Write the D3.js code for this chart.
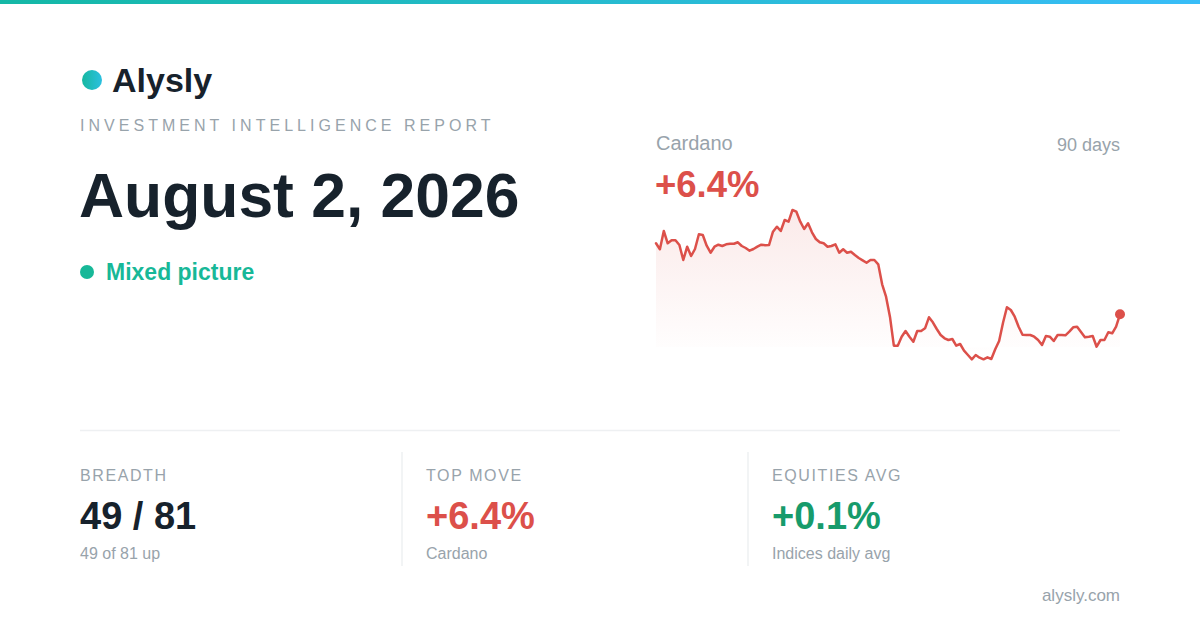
<!DOCTYPE html>
<html>
<head>
<meta charset="utf-8">
<script src="https://cdn.jsdelivr.net/npm/d3@7/dist/d3.min.js"></script>
<style>
  html, body { margin: 0; padding: 0; background: #ffffff; }
  svg { display: block; font-family: "Liberation Sans", Arial, Helvetica, sans-serif; }
</style>
</head>
<body>
<svg id="card" width="1200" height="630"></svg>
<script>
// ---- Data ----
const brand = "Alysly";
const reportLabel = "INVESTMENT INTELLIGENCE REPORT";
const reportDate = "August 2, 2026";
const sentiment = "Mixed picture";
const assetName = "Cardano";
const periodLabel = "90 days";
const assetChange = "+6.4%";
// 90-day closing series (price index read from the sparkline)
const closes = [
  156.7, 150.7, 169, 156.7, 159.7, 159.7, 155, 140, 153.3, 144, 151, 165.7, 165, 154.3, 147.3,
  153.3, 155.3, 154, 155.7, 156.3, 156.3, 157.7, 154, 152, 149.3, 151, 153.3, 155.3, 154.7, 155,
  168.3, 173.3, 169, 180, 178.3, 190, 188.3, 178.3, 171, 176.7, 167.7, 161, 157.7, 156.7, 153.3,
  154, 155.7, 147.3, 150.7, 147.3, 148.3, 145, 142, 139.7, 137.3, 140, 140, 135.7, 115.7, 103.3, 83.3,
  54.3, 54.3, 63.3, 69, 63.3, 58.3, 69, 69, 71.7, 82.7, 77.7, 71, 65, 61.7, 60, 61, 54.3, 56, 49.3,
  45, 40.7, 45, 42.3, 40.7, 42.7, 41, 50.7, 59, 77.3, 92.7, 90, 83.3, 73.3, 65.3, 65, 65, 63.3, 60,
  55, 64, 63.3, 59, 65, 65, 64.7, 68.3, 72.7, 73.3, 68, 62.7, 63.3, 64, 53.3, 60, 60, 67.7, 66.7,
  73.3, 85.7
];
const statLabels = ["BREADTH", "TOP MOVE", "EQUITIES AVG"];
const statValues = ["49 / 81", "+6.4%", "+0.1%"];
const statNotes = ["49 of 81 up", "Cardano", "Indices daily avg"];
const statTones = ["neutral", "down", "up"];
const footer = "alysly.com";

// ---- Drawing ----
const svg = d3.select("#card");
const defs = svg.append("defs");
const C = { ink: "#17222c", muted: "#98a3ab", red: "#dc504a", green: "#179b6b", teal: "#17b898" };

const topGrad = defs.append("linearGradient").attr("id", "topGrad");
topGrad.append("stop").attr("offset", "0%").attr("stop-color", "#14b8a6");
topGrad.append("stop").attr("offset", "100%").attr("stop-color", "#38bdf8");
svg.append("rect").attr("x", 0).attr("y", 0).attr("width", 1200).attr("height", 4).attr("fill", "url(#topGrad)");

const logoGrad = defs.append("linearGradient").attr("id", "logoGrad");
logoGrad.append("stop").attr("offset", "0%").attr("stop-color", "#16b8a0");
logoGrad.append("stop").attr("offset", "100%").attr("stop-color", "#2cc0e0");
svg.append("circle").attr("cx", 92).attr("cy", 80).attr("r", 10).attr("fill", "url(#logoGrad)");
svg.append("text").attr("x", 112).attr("y", 92).attr("font-size", 34).attr("font-weight", 700)
  .attr("fill", C.ink).text(brand);

svg.append("text").attr("x", 80).attr("y", 131).attr("font-size", 16).attr("fill", C.muted)
  .attr("letter-spacing", 4.03).text(reportLabel);

svg.append("text").attr("x", 79).attr("y", 217).attr("font-size", 62.4).attr("font-weight", 700)
  .attr("fill", C.ink).text(reportDate);

svg.append("circle").attr("cx", 87).attr("cy", 272).attr("r", 7).attr("fill", C.teal);
svg.append("text").attr("x", 106).attr("y", 280).attr("font-size", 23).attr("font-weight", 700)
  .attr("fill", C.teal).text(sentiment);

// Sparkline header
svg.append("text").attr("x", 656).attr("y", 150).attr("font-size", 20).attr("fill", C.muted).text(assetName);
svg.append("text").attr("x", 1120).attr("y", 151).attr("font-size", 18).attr("fill", C.muted)
  .attr("text-anchor", "end").text(periodLabel);
svg.append("text").attr("x", 655).attr("y", 197).attr("font-size", 36.5).attr("font-weight", 700)
  .attr("fill", C.red).text(assetChange);

// Sparkline
const x = d3.scaleLinear().domain([0, closes.length - 1]).range([656, 1120]);
const y = d3.scaleLinear().domain([d3.min(closes), d3.max(closes)]).range([359.3, 210]);
const areaGrad = defs.append("linearGradient").attr("id", "areaGrad")
  .attr("x1", 0).attr("y1", 0).attr("x2", 0).attr("y2", 1);
areaGrad.append("stop").attr("offset", "0%").attr("stop-color", C.red).attr("stop-opacity", 0.12);
areaGrad.append("stop").attr("offset", "100%").attr("stop-color", C.red).attr("stop-opacity", 0);
const area = d3.area().x((d, i) => x(i)).y0(y(d3.min(closes)) - 12).y1(d => y(d)).curve(d3.curveLinear);
svg.append("path").datum(closes).attr("d", area).attr("fill", "url(#areaGrad)");
const line = d3.line().x((d, i) => x(i)).y(d => y(d)).curve(d3.curveLinear);
svg.append("path").datum(closes).attr("d", line).attr("fill", "none").attr("stroke", C.red)
  .attr("stroke-width", 2.5).attr("stroke-linejoin", "round").attr("stroke-linecap", "round");
svg.append("circle").attr("cx", x(closes.length - 1)).attr("cy", y(closes[closes.length - 1]))
  .attr("r", 5).attr("fill", C.red);

// Divider
svg.append("line").attr("x1", 80).attr("x2", 1120).attr("y1", 430.5).attr("y2", 430.5)
  .attr("stroke", "#eef0f2").attr("stroke-width", 1.5);

// Stats
const colX = d3.scalePoint().domain(d3.range(statLabels.length)).range([80, 772]);
const toneColor = { neutral: C.ink, down: C.red, up: C.green };
const cols = svg.selectAll("g.stat").data(statLabels).join("g").attr("class", "stat")
  .attr("transform", (d, i) => `translate(${colX(i)},0)`);
cols.filter((d, i) => i > 0).append("line").attr("x1", -24).attr("x2", -24).attr("y1", 452).attr("y2", 566)
  .attr("stroke", "#eef0f2").attr("stroke-width", 1.5);
cols.append("text").attr("y", 481).attr("font-size", 16).attr("letter-spacing", 1.6)
  .attr("fill", C.muted).text(d => d);
cols.append("text").attr("y", 529).attr("font-size", 38).attr("font-weight", 700)
  .attr("fill", (d, i) => toneColor[statTones[i]]).text((d, i) => statValues[i]);
cols.append("text").attr("y", 559).attr("font-size", 16).attr("fill", C.muted).text((d, i) => statNotes[i]);

svg.append("text").attr("x", 1120).attr("y", 601).attr("font-size", 17).attr("fill", C.muted)
  .attr("text-anchor", "end").text(footer);
</script>
</body>
</html>
